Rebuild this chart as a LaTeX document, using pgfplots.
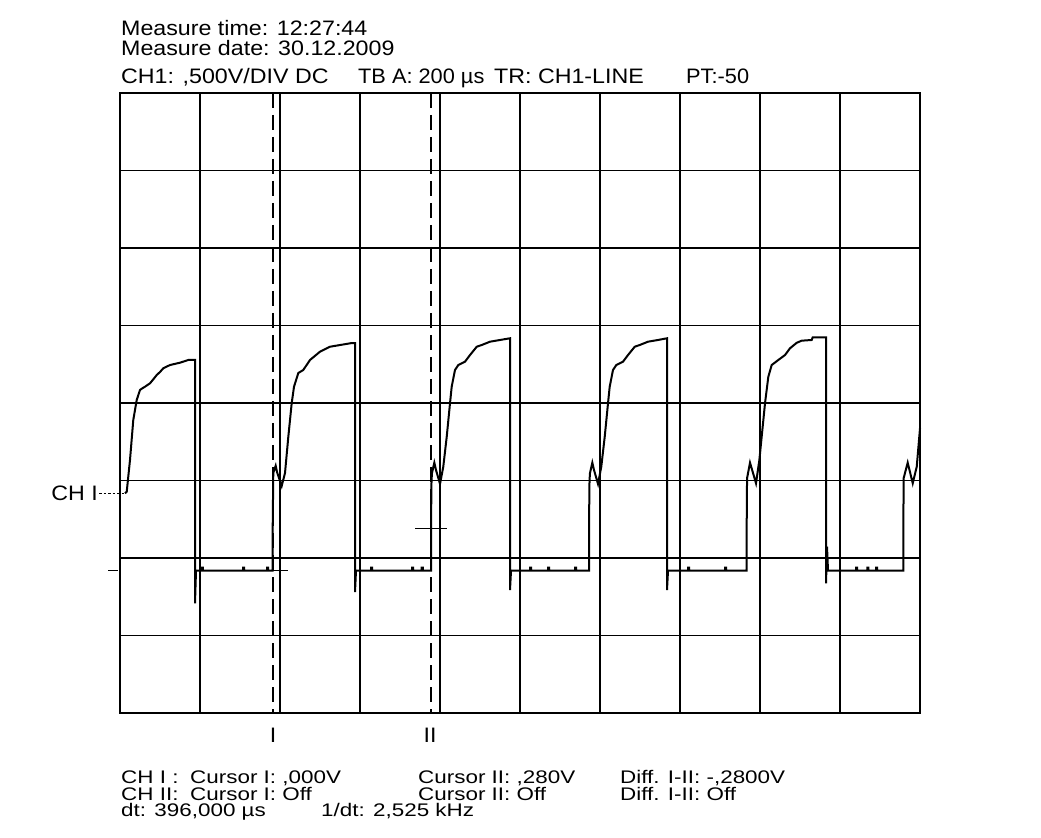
\documentclass[border=0pt]{standalone}
\usepackage{fontspec}
\usepackage{pgfplots}
\pgfplotsset{compat=1.18}
\setmainfont{Liberation Sans}
\newfontfamily\topfont[FakeStretch=1.11]{Liberation Sans}
\newfontfamily\midfont[FakeStretch=1.04]{Liberation Sans}
\newfontfamily\botfont[FakeStretch=1.23]{Liberation Sans}
\begin{document}
\begin{tikzpicture}[x=1bp,y=1bp]
\path[use as bounding box] (0,0) rectangle (1041,838);
\begin{axis}[
  at={(120bp,125bp)}, anchor=south west,
  width=800bp, height=620bp, scale only axis,
  xmin=0, xmax=10, ymin=0, ymax=8,
  xtick={0,...,10}, ytick={0,...,8},
  xticklabels={}, yticklabels={},
  major tick length=0pt,
  grid=major,
  grid style={black, line width=1.1bp},
  axis line style={black, line width=1.2bp},
  clip=false,
]
% cursor lines
\addplot[black, line width=1.2bp, dash pattern=on 15bp off 7bp] coordinates {(1.9125,8)(1.9125,0)};
\addplot[black, line width=1.2bp, dash pattern=on 15bp off 7bp] coordinates {(3.8875,8)(3.8875,0)};
\addplot[black, line width=1.2bp] coordinates {(1.725,1.836)(2.104,1.836)};
\addplot[black, line width=1.2bp] coordinates {(3.6875,2.383)(4.084,2.383)};
% reference markers
\addplot[black, line width=1.1bp, dash pattern=on 2.5bp off 2bp] coordinates {(-0.2625,2.835)(0.0625,2.835)};
\addplot[black, line width=1.2bp] coordinates {(-0.15,1.836)(-0.025,1.836)};
% waveform
\addplot[black, line width=2bp, line join=miter] coordinates {
(0.0625,2.835)(0.084,2.855)(0.125,3.265)(0.166,3.781)(0.209,4.039)(0.25,4.168)(0.28,4.19)(0.3125,4.210)(0.375,4.254)(0.42,4.31)(0.459,4.361)(0.5,4.40)(0.541,4.448)(0.625,4.490)(0.75,4.520)(0.854,4.555)(0.9375,4.555)
(0.9375,1.415)(0.95,1.836)
(1.021,1.836)(1.021,1.875)(1.036,1.875)(1.036,1.836)
(1.5375,1.836)(1.5375,1.875)(1.5525,1.875)(1.5525,1.836)
(1.8375,1.836)(1.8375,1.875)(1.8525,1.875)(1.8525,1.836)
(1.909,1.836)(1.909,2.426)(1.916,3.097)(1.946,3.190)(1.9625,3.110)(2.021,2.929)(2.0625,3.097)(2.104,3.565)(2.146,3.996)(2.175,4.210)(2.229,4.387)(2.291,4.426)(2.375,4.555)(2.5,4.662)(2.625,4.726)(2.75,4.748)(2.9,4.774)(2.9375,4.774)
(2.9375,1.561)(2.95,1.836)
(3.1375,1.836)(3.1375,1.875)(3.1525,1.875)(3.1525,1.836)
(3.65,1.836)(3.65,1.875)(3.665,1.875)(3.665,1.836)
(3.771,1.836)(3.771,1.875)(3.786,1.875)(3.786,1.836)
(3.8875,1.836)(3.8875,2.426)(3.894,3.006)(3.9,3.097)(3.929,3.230)(3.95,3.135)(4.0,2.955)(4.041,3.178)(4.084,3.565)(4.125,3.996)(4.146,4.210)(4.1875,4.426)(4.229,4.490)(4.3125,4.533)(4.375,4.619)(4.459,4.726)(4.521,4.748)(4.625,4.791)(4.75,4.813)(4.875,4.835)
(4.875,1.587)(4.8875,1.836)
(5.125,1.836)(5.125,1.875)(5.14,1.875)(5.14,1.836)
(5.35,1.836)(5.35,1.875)(5.365,1.875)(5.365,1.836)
(5.6875,1.836)(5.6875,1.875)(5.7025,1.875)(5.7025,1.836)
(5.8625,1.836)(5.8625,2.426)(5.869,3.006)(5.875,3.097)(5.904,3.230)(5.925,3.135)(5.975,2.955)(6.016,3.178)(6.059,3.565)(6.1,3.996)(6.121,4.210)(6.1625,4.426)(6.204,4.490)(6.2875,4.533)(6.35,4.619)(6.434,4.726)(6.496,4.748)(6.6,4.791)(6.725,4.813)(6.8375,4.835)
(6.8375,1.587)(6.85,1.836)
(7.1,1.836)(7.1,1.875)(7.115,1.875)(7.115,1.836)
(7.5625,1.836)(7.5625,1.875)(7.5775,1.875)(7.5775,1.836)
(7.834,1.836)(7.834,2.490)(7.838,3.028)(7.875,3.230)(7.95,2.964)(7.992,3.265)(8.021,3.565)(8.0625,3.996)(8.104,4.339)(8.146,4.490)(8.229,4.555)(8.3125,4.619)(8.375,4.706)(8.459,4.777)(8.521,4.804)(8.646,4.813)(8.659,4.848)(8.825,4.848)
(8.825,1.674)(8.8375,2.146)(8.85,1.836)
(9.2,1.836)(9.2,1.875)(9.215,1.875)(9.215,1.836)
(9.341,1.836)(9.341,1.875)(9.356,1.875)(9.356,1.836)
(9.45,1.836)(9.45,1.875)(9.465,1.875)(9.465,1.836)
(9.791,1.836)(9.791,2.146)(9.795,3.028)(9.846,3.230)(9.909,2.964)(9.959,3.178)(10.0,3.674)
};
\end{axis}
% header text
\begin{scope}[every node/.style={anchor=base west, inner sep=0pt, font=\topfont\fontsize{21}{21}\selectfont}]
\node at (121,802) {Measure time: 12:27:44};
\node at (121,782) {Measure date: 30.12.2009};
\node at (121,754) {CH1: ,500V/DIV DC};
\node[font=\midfont\fontsize{21}{21}\selectfont] at (358,754) {TB A: 200 µs};
\node at (494,754) {TR: CH1-LINE};
\node[font=\midfont\fontsize{21}{21}\selectfont] at (686,754) {PT:-50};
\node[anchor=base east] at (98,337.5) {CH I};
\node[anchor=base] at (273,95.5) {I};
\node[anchor=base] at (430,95.5) {II};
\end{scope}
% footer text
\begin{scope}[every node/.style={anchor=base west, inner sep=0pt, font=\botfont\fontsize{18.3}{18.3}\selectfont}]
\node at (121,54) {CH I :};
\node at (190,54) {Cursor I: ,000V};
\node at (418,54) {Cursor II: ,280V};
\node at (620,54) {Diff. I-II: -,2800V};
\node at (121,37.5) {CH II:};
\node at (190,37.5) {Cursor I: Off};
\node at (418,37.5) {Cursor II: Off};
\node at (620,37.5) {Diff. I-II: Off};
\node at (121,21) {dt: 396,000 µs};
\node at (321,21) {1/dt: 2,525 kHz};
\end{scope}
\end{tikzpicture}
\end{document}
